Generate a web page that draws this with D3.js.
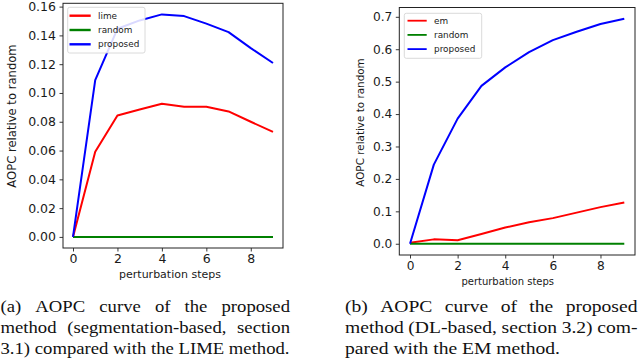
<!DOCTYPE html>
<html>
<head>
<meta charset="utf-8">
<script src="https://cdn.jsdelivr.net/npm/d3@7"></script>
<style>
  body { margin: 0; background: #fff; }
  svg { display: block; }
  .tick text { font-family: "DejaVu Sans", sans-serif; fill: #1a1a1a; }
</style>
</head>
<body>
<div id="chart"></div>
<script>
// perturbation steps on the x axis
const steps = [0, 1, 2, 3, 4, 5, 6, 7, 8, 9];

// panel (a): segmentation-based vs LIME
const limeValues = [0.0, 0.0592, 0.0844, 0.0885, 0.0925, 0.0905, 0.0905, 0.0872, 0.0800, 0.0730];
const randomA = [0, 0, 0, 0, 0, 0, 0, 0, 0, 0];
const proposedA = [0.0, 0.1089, 0.1446, 0.1504, 0.1546, 0.1534, 0.1482, 0.1423, 0.1312, 0.1208];
const yTicksA = [0.00, 0.02, 0.04, 0.06, 0.08, 0.10, 0.12, 0.14, 0.16];

// panel (b): DL-based vs EM
const emValues = [0.003, 0.0135, 0.011, 0.030, 0.050, 0.066, 0.079, 0.096, 0.113, 0.127];
const randomB = [0, 0, 0, 0, 0, 0, 0, 0, 0, 0];
const proposedB = [0.0, 0.244, 0.386, 0.487, 0.544, 0.591, 0.628, 0.654, 0.678, 0.694];
const yTicksB = [0.0, 0.1, 0.2, 0.3, 0.4, 0.5, 0.6, 0.7];

const xTicks = [0, 2, 4, 6, 8];

const captionA = [
  "(a) AOPC curve of the proposed",
  "method (segmentation-based, section",
  "3.1) compared with the LIME method."
];
const captionB = [
  "(b) AOPC curve of the proposed",
  "method (DL-based, section 3.2) com-",
  "pared with the EM method."
];

const width = 640;
const height = 359;

const svg = d3
  .select("#chart")
  .append("svg")
  .attr("width", width)
  .attr("height", height);

function drawPanel(p) {
  const x = d3.scaleLinear().domain([-0.45, 9.45]).range(p.xRange);
  const y = d3.scaleLinear().domain(p.yDomain).range(p.yRange);

  const g = svg.append("g");

  // y axis
  const yAxis = g
    .append("g")
    .attr("transform", "translate(" + p.xRange[0] + ",0)")
    .call(
      d3
        .axisLeft(y)
        .tickValues(p.yTicks)
        .tickFormat(d3.format(p.yFormat))
        .tickSize(3.5)
        .tickPadding(3.5)
    );
  yAxis.select(".domain").remove();
  yAxis.selectAll(".tick line").attr("stroke", "#222").attr("stroke-width", 0.9);
  yAxis.selectAll(".tick text").style("font-size", p.tickFont + "px");

  // x axis
  const xAxis = g
    .append("g")
    .attr("transform", "translate(0," + p.yRange[0] + ")")
    .call(
      d3
        .axisBottom(x)
        .tickValues(xTicks)
        .tickFormat(d3.format("d"))
        .tickSize(3.5)
        .tickPadding(3)
    );
  xAxis.select(".domain").remove();
  xAxis.selectAll(".tick line").attr("stroke", "#222").attr("stroke-width", 0.9);
  xAxis.selectAll(".tick text").style("font-size", p.tickFont + "px");

  // lines
  const line = d3
    .line()
    .x((d, i) => x(steps[i]))
    .y(d => y(d));

  p.series.forEach(s => {
    g.append("path")
      .datum(s.values)
      .attr("fill", "none")
      .attr("stroke", s.color)
      .attr("stroke-width", p.lineWidth)
      .attr("stroke-linejoin", "round")
      .attr("d", line);
  });

  // frame
  g.append("rect")
    .attr("x", p.xRange[0])
    .attr("y", p.yRange[1])
    .attr("width", p.xRange[1] - p.xRange[0])
    .attr("height", p.yRange[0] - p.yRange[1])
    .attr("fill", "none")
    .attr("stroke", "#222")
    .attr("stroke-width", 1);

  // axis labels
  g.append("text")
    .attr("x", p.xLabelPos[0])
    .attr("y", p.xLabelPos[1])
    .attr("text-anchor", "middle")
    .attr("dominant-baseline", "central")
    .style("font-family", "DejaVu Sans, sans-serif")
    .style("font-size", p.xLabelFont + "px")
    .attr("fill", "#1a1a1a")
    .text("perturbation steps");

  g.append("text")
    .attr(
      "transform",
      "translate(" + p.yLabelPos[0] + "," + p.yLabelPos[1] + ") rotate(-90)"
    )
    .attr("text-anchor", "middle")
    .attr("dominant-baseline", "central")
    .style("font-family", "DejaVu Sans, sans-serif")
    .style("font-size", p.yLabelFont + "px")
    .attr("fill", "#1a1a1a")
    .text("AOPC relative to random");

  // legend
  const lg = p.legend;
  g.append("rect")
    .attr("x", lg.x)
    .attr("y", lg.y)
    .attr("width", lg.w)
    .attr("height", lg.h)
    .attr("rx", 2)
    .attr("fill", "#fff")
    .attr("fill-opacity", 0.85)
    .attr("stroke", "#d0d0d0")
    .attr("stroke-width", 0.8);

  const item = g
    .selectAll(".legend-" + p.name)
    .data(p.series)
    .enter()
    .append("g")
    .attr("transform", (d, i) => "translate(0," + (lg.y0 + i * lg.step) + ")");

  item
    .append("line")
    .attr("x1", lg.lineX[0])
    .attr("x2", lg.lineX[1])
    .attr("stroke", d => d.color)
    .attr("stroke-width", lg.lineWidth);

  item
    .append("text")
    .attr("x", lg.textX)
    .attr("dominant-baseline", "central")
    .style("font-family", "DejaVu Sans, sans-serif")
    .style("font-size", lg.font + "px")
    .attr("fill", "#1a1a1a")
    .text(d => d.name);
}

drawPanel({
  name: "a",
  xRange: [63, 283],
  yDomain: [-0.0077, 0.1623],
  yRange: [248, 3.3],
  yTicks: yTicksA,
  yFormat: ".2f",
  tickFont: 12.5,
  lineWidth: 2,
  xLabelPos: [170, 274],
  xLabelFont: 11,
  yLabelPos: [12, 116],
  yLabelFont: 11.6,
  series: [
    { name: "lime", color: "#ff0000", values: limeValues },
    { name: "random", color: "#008000", values: randomA },
    { name: "proposed", color: "#0000ff", values: proposedA }
  ],
  legend: {
    x: 67.7, y: 7.3, w: 77.3, h: 45.7,
    y0: 15.7, step: 14.3,
    lineX: [69.5, 90.7], textX: 98,
    lineWidth: 2.4, font: 8.9
  }
});

drawPanel({
  name: "b",
  xRange: [399.3, 635],
  yDomain: [-0.0347, 0.7287],
  yRange: [255, 7.5],
  yTicks: yTicksB,
  yFormat: ".1f",
  tickFont: 12.2,
  lineWidth: 2,
  xLabelPos: [507.7, 281.7],
  xLabelFont: 10,
  yLabelPos: [360, 122.5],
  yLabelFont: 10.4,
  series: [
    { name: "em", color: "#ff0000", values: emValues },
    { name: "random", color: "#008000", values: randomB },
    { name: "proposed", color: "#0000ff", values: proposedB }
  ],
  legend: {
    x: 404.3, y: 13.3, w: 77.4, h: 45,
    y0: 20.7, step: 14.2,
    lineX: [407.5, 426.7], textX: 434,
    lineWidth: 1.8, font: 8.9
  }
});

// captions, justified word by word
function drawCaption(lines, x0, w, lastWidth) {
  const fontSize = 17;
  const baselines = [311.5, 332.5, 353.5];
  const cg = svg.append("g")
    .style("font-family", "Liberation Serif, serif")
    .style("font-size", fontSize + "px")
    .attr("fill", "#111");

  // measure the last line to get horizontal scale
  const probe = cg.append("text").text(lines[lines.length - 1]);
  const sx = lastWidth / probe.node().getComputedTextLength();
  probe.remove();

  lines.forEach((ln, li) => {
    const words = ln.split(" ");
    const ws = words.map(wd => {
      const t = cg.append("text").text(wd);
      const len = t.node().getComputedTextLength() * sx;
      t.remove();
      return len;
    });
    const last = li === lines.length - 1;
    const gap = last
      ? fontSize * 0.25 * sx
      : (w - d3.sum(ws)) / (words.length - 1);
    let cx = x0;
    words.forEach((wd, i) => {
      cg.append("text")
        .attr("transform", "translate(" + cx + "," + baselines[li] + ") scale(" + sx + ",1)")
        .text(wd);
      cx += ws[i] + gap;
    });
  });
}

drawCaption(captionA, 0.5, 289.5, 289);
drawCaption(captionB, 345, 292.5, 215);
</script>
</body>
</html>
